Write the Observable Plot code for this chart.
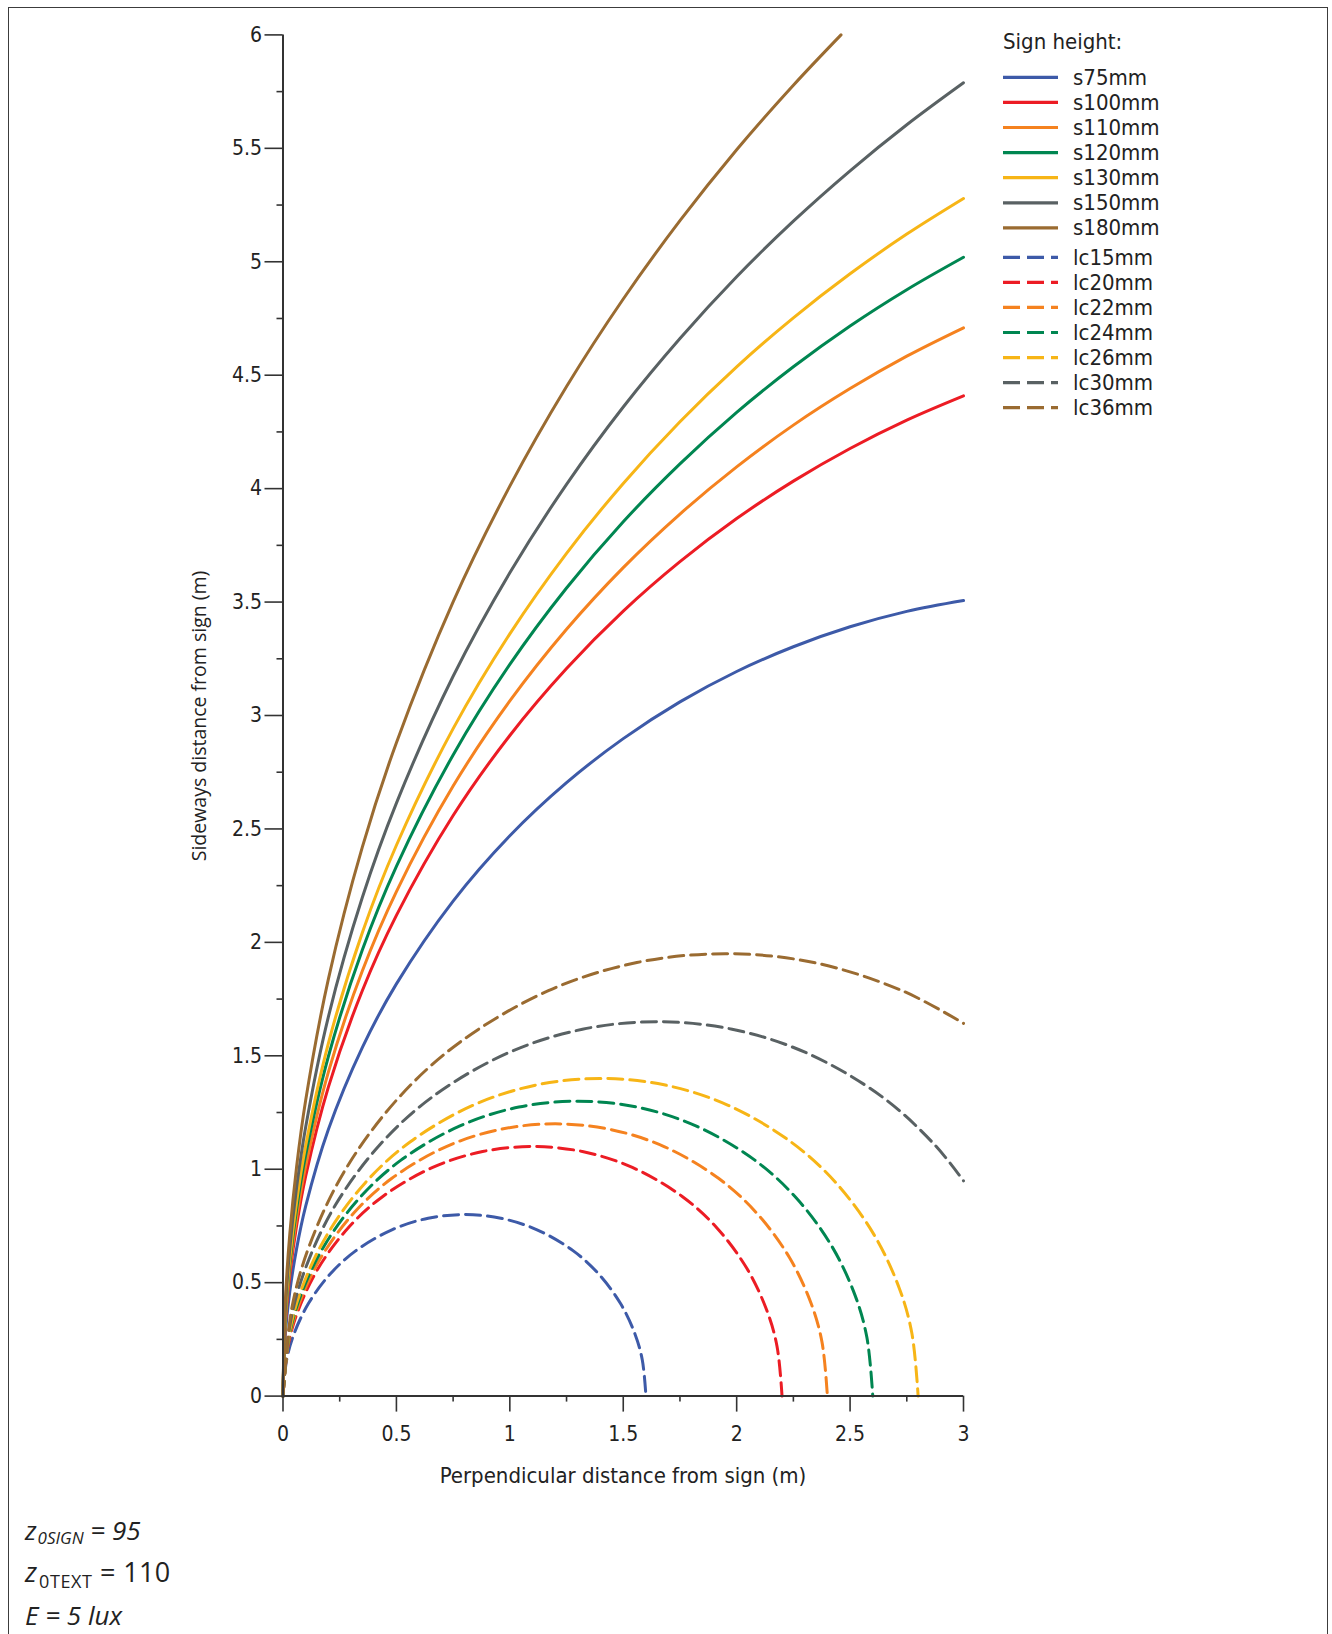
<!DOCTYPE html>
<html><head><meta charset="utf-8">
<script src="https://cdn.jsdelivr.net/npm/d3@7"></script>
<script src="https://cdn.jsdelivr.net/npm/@observablehq/plot@0.6"></script>
<style>
html,body{margin:0;padding:0;width:1332px;height:1634px;overflow:hidden;background:#fff;}
#frame{position:absolute;left:8px;top:7px;width:1320px;height:1700px;border:1.5px solid #3c3c3c;box-sizing:border-box;}
#chart{position:absolute;left:0;top:0;}
#overlay{position:absolute;left:0;top:0;}
</style></head><body>
<div id="frame"></div>
<div id="chart"></div>
<svg id="overlay" width="1332" height="1634"></svg>
<script>
// ---- data ----
const seriesNames = ["s75mm","s100mm","s110mm","s120mm","s130mm","s150mm","s180mm",
                     "lc15mm","lc20mm","lc22mm","lc24mm","lc26mm","lc30mm","lc36mm"];
const palette = ["#3d5aa8","#ec1c24","#f5821f","#008651","#f7b516","#596163","#9a6b31"];
const seriesColors = palette.concat(palette);

const s75mm = [[0,0],[0.01,0.266],[0.03,0.461],[0.06,0.650],[0.1,0.837],[0.2,1.175],[0.35,1.537],[0.5,1.817],[0.75,2.182],[1,2.470],[1.25,2.704],[1.5,2.898],[1.75,3.060],[2,3.194],[2.25,3.303],[2.5,3.391],[2.75,3.459],[3,3.507]];
const s100mm = [[0,0],[0.01,0.308],[0.03,0.532],[0.06,0.752],[0.1,0.969],[0.2,1.362],[0.35,1.788],[0.5,2.119],[0.75,2.559],[1,2.912],[1.25,3.207],[1.5,3.460],[1.75,3.678],[2,3.868],[2.25,4.033],[2.5,4.177],[2.75,4.302],[3,4.409]];
const s110mm = [[0,0],[0.01,0.322],[0.03,0.558],[0.06,0.787],[0.1,1.014],[0.2,1.428],[0.35,1.875],[0.5,2.224],[0.75,2.689],[1,3.064],[1.25,3.380],[1.5,3.652],[1.75,3.888],[2,4.096],[2.25,4.280],[2.5,4.441],[2.75,4.584],[3,4.709]];
const s120mm = [[0,0],[0.01,0.338],[0.03,0.584],[0.06,0.825],[0.1,1.063],[0.2,1.497],[0.35,1.967],[0.5,2.335],[0.75,2.826],[1,3.225],[1.25,3.562],[1.5,3.854],[1.75,4.109],[2,4.336],[2.25,4.537],[2.5,4.717],[2.75,4.877],[3,5.020]];
const s130mm = [[0,0],[0.01,0.350],[0.03,0.607],[0.06,0.857],[0.1,1.104],[0.2,1.555],[0.35,2.044],[0.5,2.428],[0.75,2.942],[1,3.360],[1.25,3.715],[1.5,4.023],[1.75,4.295],[2,4.537],[2.25,4.753],[2.5,4.947],[2.75,5.122],[3,5.279]];
const s150mm = [[0,0],[0.01,0.376],[0.03,0.651],[0.06,0.920],[0.1,1.186],[0.2,1.672],[0.35,2.199],[0.5,2.614],[0.75,3.173],[1,3.629],[1.25,4.019],[1.5,4.360],[1.75,4.662],[2,4.934],[2.25,5.179],[2.5,5.401],[2.75,5.604],[3,5.789]];
const s180mm = [[0,0],[0.01,0.413],[0.03,0.715],[0.06,1.011],[0.1,1.304],[0.2,1.838],[0.35,2.421],[0.5,2.880],[0.75,3.501],[1,4.011],[1.25,4.450],[1.5,4.836],[1.75,5.181],[2,5.494],[2.25,5.778],[2.46,6.0]];

const lc15mm = [[0,0],[0.016,0.159],[0.048,0.273],[0.112,0.408],[0.208,0.538],[0.32,0.64],[0.48,0.733],[0.64,0.784],[0.8,0.8],[0.96,0.784],[1.12,0.733],[1.28,0.64],[1.392,0.538],[1.488,0.408],[1.552,0.273],[1.584,0.159],[1.6,0]];
const lc20mm = [[0,0],[0.022,0.219],[0.066,0.375],[0.154,0.561],[0.286,0.740],[0.44,0.88],[0.66,1.008],[0.88,1.078],[1.1,1.1],[1.32,1.078],[1.54,1.008],[1.76,0.88],[1.914,0.740],[2.046,0.561],[2.134,0.375],[2.178,0.219],[2.2,0]];
const lc22mm = [[0,0],[0.024,0.239],[0.072,0.409],[0.168,0.612],[0.312,0.807],[0.48,0.96],[0.72,1.100],[0.96,1.176],[1.2,1.2],[1.44,1.176],[1.68,1.100],[1.92,0.96],[2.088,0.807],[2.232,0.612],[2.328,0.409],[2.376,0.239],[2.4,0]];
const lc24mm = [[0,0],[0.026,0.259],[0.078,0.444],[0.182,0.663],[0.338,0.874],[0.52,1.04],[0.78,1.191],[1.04,1.274],[1.3,1.3],[1.56,1.274],[1.82,1.191],[2.08,1.04],[2.262,0.874],[2.418,0.663],[2.522,0.444],[2.574,0.259],[2.6,0]];
const lc26mm = [[0,0],[0.028,0.279],[0.084,0.478],[0.196,0.714],[0.364,0.942],[0.56,1.12],[0.84,1.283],[1.12,1.372],[1.4,1.4],[1.68,1.372],[1.96,1.283],[2.24,1.12],[2.436,0.942],[2.604,0.714],[2.716,0.478],[2.772,0.279],[2.8,0]];
const lc30mm = [[0,0],[0.033,0.328],[0.099,0.563],[0.231,0.842],[0.429,1.110],[0.66,1.32],[0.99,1.512],[1.32,1.617],[1.65,1.65],[1.98,1.617],[2.31,1.512],[2.64,1.32],[2.871,1.110],[3,0.949]];
const lc36mm = [[0,0],[0.039,0.388],[0.117,0.665],[0.273,0.995],[0.507,1.312],[0.78,1.56],[1.17,1.787],[1.56,1.911],[1.95,1.95],[2.34,1.911],[2.73,1.787],[3,1.643]];

const xMajor = [0,0.5,1,1.5,2,2.5,3];
const xMinor = [0.25,0.75,1.25,1.75,2.25,2.75];
const yMajor = [0,0.5,1,1.5,2,2.5,3,3.5,4,4.5,5,5.5,6];
const yMinor = [0.25,0.75,1.25,1.75,2.25,2.75,3.25,3.75,4.25,4.75,5.25,5.75];

const legendTitle = "Sign height:";
const xTitle = "Perpendicular distance from sign (m)";
const yTitle = "Sideways distance from sign (m)";

// ---- build table ----
const seriesData = [s75mm,s100mm,s110mm,s120mm,s130mm,s150mm,s180mm,lc15mm,lc20mm,lc22mm,lc24mm,lc26mm,lc30mm,lc36mm];
const solidRows = [], dashRows = [];
seriesData.forEach((arr, i) => {
  const target = i < 7 ? solidRows : dashRows;
  arr.forEach(([x, y]) => target.push({series: seriesNames[i], x, y}));
});

const DIN = '"Liberation Sans Narrow","DejaVu Sans Condensed","Roboto Condensed",Roboto,sans-serif';
const W = 1332, H = 1500;
const chart = Plot.plot({
  width: W, height: H,
  marginLeft: 282.5, marginRight: W - 963, marginTop: 34.4, marginBottom: H - 1395.6,
  x: {domain: [0, 3]},
  y: {domain: [0, 6]},
  color: {domain: seriesNames, range: seriesColors},
  style: {fontFamily: DIN, fontSize: "21px", color: "#222", background: "transparent", overflow: "visible"},
  marks: [
    Plot.line(solidRows, {x: "x", y: "y", z: "series", stroke: "series", strokeWidth: 3, curve: "catmull-rom"}),
    Plot.line(dashRows, {x: "x", y: "y", z: "series", stroke: "series", strokeWidth: 3, strokeDasharray: "15,7", curve: "catmull-rom"}),
    Plot.axisY({ticks: yMajor, tickSize: 18, tickPadding: 3, tickFormat: d => String(d), label: null, stroke: "#333", strokeWidth: 1.6}),
    Plot.axisY({ticks: yMinor, tickSize: 6, tickFormat: () => "", label: null, stroke: "#333", strokeWidth: 1.6}),
    Plot.axisX({ticks: xMajor, tickSize: 16, tickPadding: 14, tickFormat: d => String(d), label: null, stroke: "#333", strokeWidth: 1.6}),
    Plot.axisX({ticks: xMinor, tickSize: 6, tickFormat: () => "", label: null, stroke: "#333", strokeWidth: 1.6}),
    Plot.ruleX([0], {stroke: "#333", strokeWidth: 2}),
    Plot.ruleY([0], {stroke: "#333", strokeWidth: 2})
  ]
});
document.getElementById("chart").appendChild(chart);

// ---- overlay: legend, axis titles, captions ----
const ov = d3.select("#overlay");
ov.append("text").attr("x", 1003).attr("y", 49).attr("font-family", DIN).attr("font-size", 22).attr("fill", "#222").text(legendTitle);
seriesNames.forEach((name, i) => {
  const cy = i < 7 ? 77.3 + 25.1 * i : 257.3 + 25.07 * (i - 7);
  ov.append("line").attr("x1", 1003).attr("x2", 1058).attr("y1", cy).attr("y2", cy)
    .attr("stroke", seriesColors[i]).attr("stroke-width", 3.2)
    .attr("stroke-dasharray", i < 7 ? null : "17,7");
  ov.append("text").attr("x", 1073).attr("y", cy + 7.5).attr("font-family", DIN).attr("font-size", 22).attr("fill", "#222").text(name);
});
ov.append("text").attr("x", 623).attr("y", 1483).attr("text-anchor", "middle").attr("font-family", DIN).attr("font-size", 22).attr("fill", "#222").text(xTitle);
ov.append("text").attr("transform", "translate(206,716) rotate(-90)").attr("text-anchor", "middle").attr("font-family", '"Open Sans",sans-serif').attr("font-size", 19.5).attr("fill", "#222").text(yTitle);

const cap = '"Open Sans","Noto Sans",sans-serif';
const t1 = ov.append("text").attr("x", 25).attr("y", 1540).attr("font-family", cap).attr("font-size", 26).attr("font-style", "italic").attr("fill", "#222");
t1.append("tspan").text("z");
t1.append("tspan").attr("font-size", 17).attr("dy", 4).attr("dx", 1).text("0SIGN");
t1.append("tspan").attr("dy", -4).text(" = 95");
const t2 = ov.append("text").attr("x", 25).attr("y", 1582).attr("font-family", cap).attr("font-size", 27).attr("fill", "#222");
t2.append("tspan").attr("font-style", "italic").text("z");
t2.append("tspan").attr("font-size", 18).attr("dy", 6).attr("dx", 2).attr("letter-spacing", 0.6).text("0TEXT");
t2.append("tspan").attr("dy", -6).attr("letter-spacing", 0.4).text(" = 110");
ov.append("text").attr("x", 25).attr("y", 1625).attr("font-family", cap).attr("font-size", 26).attr("font-style", "italic").attr("fill", "#222").text("E = 5 lux");
</script>
</body></html>
